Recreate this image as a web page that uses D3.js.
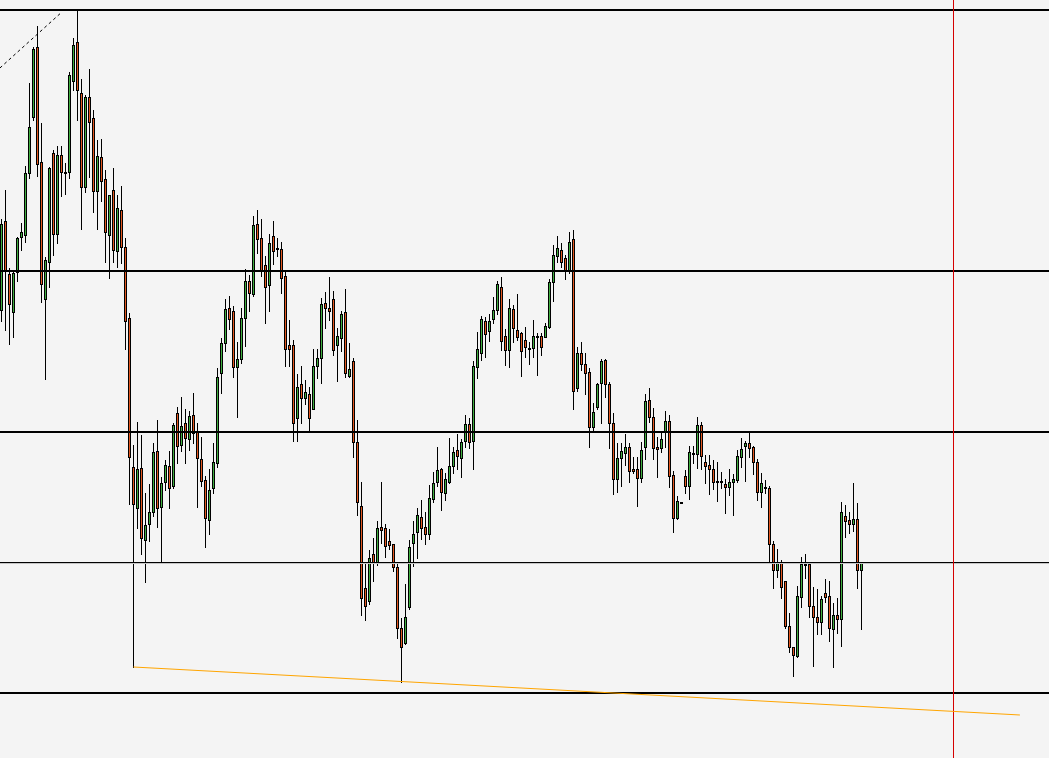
<!DOCTYPE html>
<html>
<head>
<meta charset="utf-8">
<script src="https://cdn.jsdelivr.net/npm/d3@7"></script>
<style>
html,body{margin:0;padding:0;background:#f4f4f4;overflow:hidden;}
svg{display:block;}
</style>
</head>
<body>
<svg id="chart" width="1049" height="758"></svg>
<script>
// Price values in points
const opens = [1248,1337,1284,1246,1286,1321,1323,1385,1441,1511,1396,1259,1296,1405,1324,1403,1386,1386,1477,1516,
1465,1371,1461,1440,1367,1401,1379,1323,1368,1307,1348,1311,1240,1091,1050,1090,1018,1034,1046,1107,
1051,1076,1092,1072,1145,1113,1135,1119,1143,1126,1099,1078,1038,1070,1095,1185,1215,1250,1247,1191,
1199,1240,1277,1264,1334,1320,1293,1273,1322,1310,1309,1282,1213,1213,1140,1174,1160,1164,1149,1192,
1200,1255,1250,1259,1213,1220,1246,1182,1197,1116,1052,970,957,1004,996,1031,1030,1017,1014,991,
930,915,951,1015,1026,1041,1031,1024,1059,1076,1089,1065,1076,1092,1108,1100,1117,1134,1117,1191,
1205,1237,1227,1239,1248,1271,1222,1208,1249,1228,1225,1218,1210,1210,1222,1222,1221,1231,1276,1302,
1308,1300,1287,1319,1170,1205,1194,1186,1131,1151,1175,1198,1174,1135,1079,1100,1105,1111,1089,1089,
1080,1111,1158,1141,1111,1110,1126,1137,1083,1040,1056,1082,1072,1105,1104,1133,1096,1093,1089,1077,
1077,1074,1071,1076,1078,1101,1112,1115,1111,1096,1066,1071,1070,1014,988,996,977,932,911,902,
961,994,994,952,941,936,965,962,929,943,939,1042,1038,1034,1039,988];
const highs = [1339,1368,1290,1286,1321,1335,1392,1475,1511,1532,1435,1301,1391,1408,1412,1412,1395,1486,1520,1548,
1479,1463,1489,1448,1418,1419,1388,1363,1390,1363,1372,1320,1245,1113,1136,1123,1065,1074,1115,1138,
1081,1098,1107,1135,1151,1161,1149,1147,1165,1135,1121,1082,1089,1115,1190,1220,1259,1262,1252,1216,
1250,1289,1283,1342,1348,1339,1302,1324,1337,1320,1316,1288,1238,1218,1184,1192,1178,1171,1209,1209,
1260,1266,1281,1267,1230,1247,1269,1215,1200,1138,1076,995,1008,1020,1037,1076,1034,1029,1014,994,
940,974,1018,1037,1050,1058,1046,1073,1086,1111,1090,1085,1120,1111,1124,1119,1143,1140,1197,1226,
1242,1241,1244,1261,1277,1281,1229,1259,1253,1264,1226,1231,1216,1238,1225,1225,1235,1279,1313,1322,
1315,1303,1326,1328,1211,1216,1205,1190,1155,1175,1199,1199,1176,1145,1115,1115,1124,1115,1101,1101,
1116,1164,1170,1150,1121,1125,1147,1143,1087,1062,1056,1088,1112,1112,1141,1136,1103,1103,1098,1096,
1086,1079,1089,1084,1108,1120,1117,1126,1112,1099,1085,1078,1072,1017,1009,998,977,945,911,972,
1001,1004,996,971,969,962,979,977,955,960,1056,1053,1046,1075,1055,995];
const lows = [1237,1228,1214,1221,1277,1308,1316,1380,1438,1382,1256,1179,1271,1303,1315,1362,1364,1380,1468,1438,
1329,1366,1381,1346,1329,1357,1296,1280,1296,1291,1295,1209,1054,891,1030,1004,976,1017,1042,1031,
996,1068,1050,1070,1095,1107,1095,1108,1115,1051,1072,1011,1024,1065,1091,1165,1207,1229,1181,1141,
1195,1212,1247,1262,1305,1282,1235,1247,1294,1302,1265,1192,1192,1117,1117,1135,1154,1127,1149,1180,
1175,1230,1238,1203,1177,1207,1181,1181,1101,1043,943,938,954,977,993,1015,1001,1009,987,920,
876,914,949,992,1000,1019,1014,1019,1056,1072,1048,1058,1075,1085,1089,1081,1111,1110,1089,1180,
1198,1201,1217,1235,1244,1208,1193,1191,1216,1218,1182,1201,1194,1201,1183,1203,1221,1230,1257,1296,
1291,1279,1285,1149,1167,1188,1164,1111,1127,1149,1135,1161,1110,1064,1066,1072,1093,1076,1085,1052,
1076,1099,1136,1099,1081,1106,1111,1071,1026,1039,1055,1065,1059,1095,1090,1089,1075,1064,1069,1057,
1070,1045,1063,1043,1076,1091,1077,1101,1084,1058,1051,1065,997,970,981,960,930,906,882,901,
951,980,941,892,924,924,956,917,891,925,912,1021,1025,1027,970,929];
const closes = [1334,1287,1254,1285,1320,1326,1385,1431,1509,1394,1274,1298,1390,1324,1403,1386,1385,1483,1513,1468,
1371,1461,1436,1367,1402,1377,1326,1363,1308,1350,1311,1237,1101,1054,1089,1020,1033,1046,1106,1050,
1075,1093,1070,1133,1112,1132,1120,1142,1125,1100,1077,1040,1068,1096,1181,1215,1249,1239,1191,1199,
1240,1277,1265,1333,1319,1288,1271,1315,1307,1310,1280,1209,1209,1135,1171,1160,1166,1140,1192,1200,
1254,1250,1247,1208,1222,1244,1185,1189,1116,1056,960,952,1000,995,1030,1028,1012,1013,991,930,
911,941,1011,1024,1043,1030,1024,1060,1075,1088,1066,1079,1092,1106,1102,1116,1134,1116,1192,1209,
1239,1224,1237,1248,1274,1217,1208,1250,1230,1221,1207,1211,1210,1222,1222,1211,1232,1276,1303,1310,
1296,1288,1316,1167,1205,1194,1185,1131,1146,1174,1197,1174,1135,1079,1100,1107,1111,1087,1087,1080,
1108,1157,1141,1110,1109,1119,1137,1082,1040,1057,1056,1072,1106,1105,1133,1102,1092,1089,1076,1077,
1077,1071,1076,1079,1102,1109,1115,1110,1096,1066,1075,1070,1014,988,995,971,932,911,903,962,
994,994,952,941,936,959,961,930,943,939,1046,1037,1034,1039,988,995];

// Horizontal levels (price) and their stroke widths
const levels = [1548, 1287, 1126, 865];
const thinLevels = [995.5];
// Trendlines: [bar index, price]
const supportLine = [[33, 891], [254.6, 843]];
const dashedLine = [[-0.4, 1490], [15.1, 1546]];
// Vertical marker at bar index
const vMarker = 238;

const W = 1049, H = 758;
const svg = d3.select("#chart");
svg.append("rect").attr("width", W).attr("height", H).attr("fill", "#f4f4f4");

const x = d3.scaleLinear().domain([0, 215]).range([1.5, 861.5]);
const y = d3.scaleLinear().domain([800, 1558]).range([758, 0]);

const bars = opens.map((o, i) => ({i, o, h: highs[i], l: lows[i], c: closes[i]}));

const UP = "#3fae3f", DOWN = "#e4571f";
const g = svg.append("g");
const cs = g.selectAll("g.c").data(bars).join("g").attr("class", "c");
cs.append("line")
  .attr("x1", d => x(d.i)).attr("x2", d => x(d.i))
  .attr("y1", d => y(d.h)).attr("y2", d => y(d.l) + 1)
  .attr("stroke", "#000").attr("stroke-width", 1).attr("shape-rendering", "crispEdges");
cs.append("rect")
  .attr("x", d => x(d.i) - 1)
  .attr("width", 2)
  .attr("y", d => y(Math.max(d.o, d.c)) + 0.5)
  .attr("height", d => Math.max(1, Math.abs(y(d.o) - y(d.c))))
  .attr("fill", d => d.c > d.o ? UP : (d.c < d.o ? DOWN : "#000"))
  .attr("stroke", "#000").attr("stroke-width", 1);

// Levels
svg.selectAll("line.lv").data(levels).join("line").attr("class", "lv")
  .attr("x1", 0).attr("x2", W).attr("y1", d => y(d)).attr("y2", d => y(d))
  .attr("stroke", "#000").attr("stroke-width", 2);
svg.selectAll("line.tl").data(thinLevels).join("line").attr("class", "tl")
  .attr("x1", 0).attr("x2", W).attr("y1", d => y(d) + 1).attr("y2", d => y(d) + 1)
  .attr("stroke", "#c4c4c4").attr("stroke-width", 1);
svg.selectAll("line.tl2").data(thinLevels).join("line").attr("class", "tl2")
  .attr("x1", 0).attr("x2", W).attr("y1", d => y(d)).attr("y2", d => y(d))
  .attr("stroke", "#000").attr("stroke-width", 1);

// Vertical marker
svg.append("line")
  .attr("x1", x(vMarker)).attr("x2", x(vMarker)).attr("y1", 0).attr("y2", H)
  .attr("stroke", "#d40000").attr("stroke-width", 1);

// Support trendline
const lineGen = d3.line().x(d => x(d[0])).y(d => y(d[1]));
svg.append("path").attr("d", lineGen(supportLine))
  .attr("fill", "none").attr("stroke", "#ffa500").attr("stroke-width", 1);
svg.append("path").attr("d", lineGen(dashedLine))
  .attr("fill", "none").attr("stroke", "#000").attr("stroke-width", 1)
  .attr("stroke-dasharray", "3,3");
</script>
</body>
</html>
